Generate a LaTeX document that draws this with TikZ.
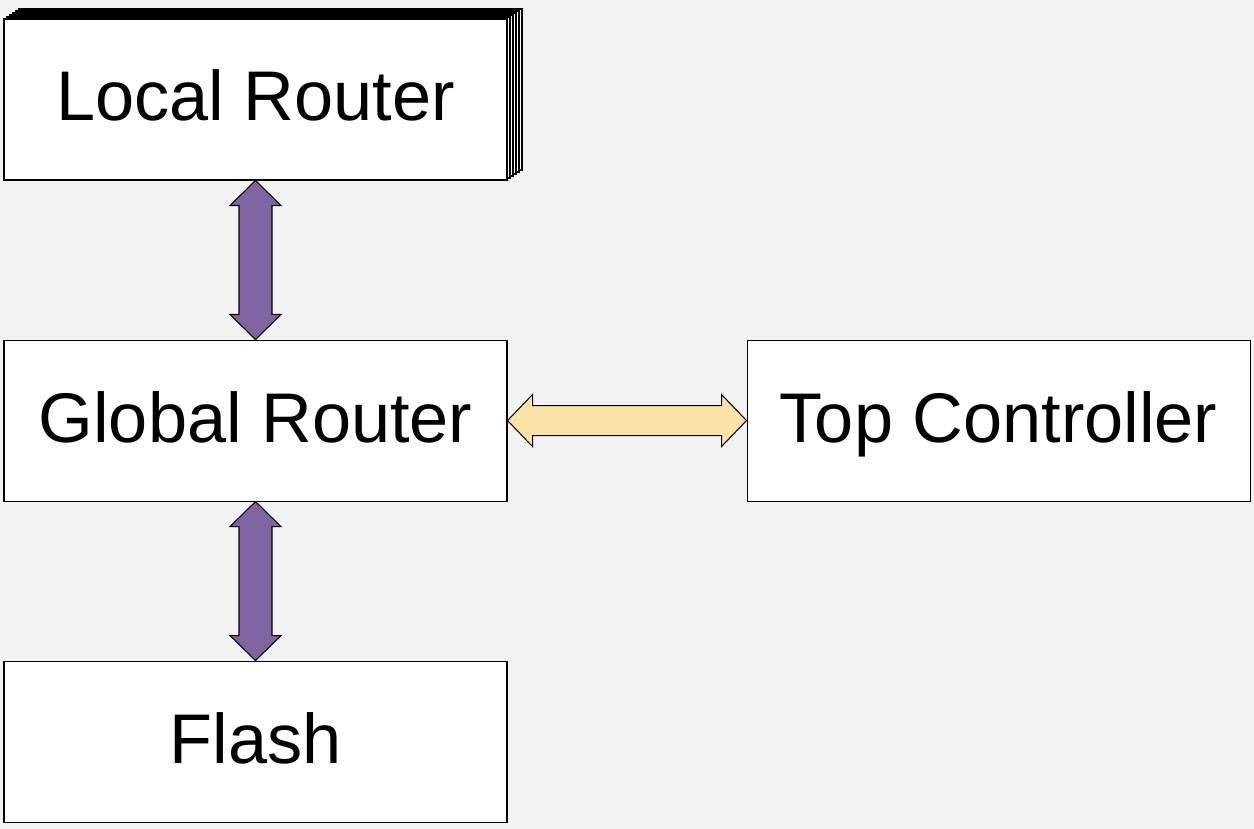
\documentclass[tikz,border=0pt]{standalone}
\usepackage{fontspec}
\setmainfont{Liberation Sans}
\usepackage{tikz}
\usetikzlibrary{calc,positioning,shadows}
\definecolor{bgGray}{RGB}{242,242,242}
\definecolor{linkPurple}{RGB}{128,100,162}
\definecolor{linkYellow}{RGB}{249,228,166}

% fat double arrows between two nodes
\newcommand{\vlink}[3]{%
  \filldraw[#1] (#2.south) -- ++(0.51,-0.5) -- ++(-0.18,0)
    -- ($(#3.north)+(0.33,0.5)$) -- ++(0.18,0) -- (#3.north)
    -- ++(-0.51,0.5) -- ++(0.18,0) -- ($(#2.south)+(-0.33,-0.5)$)
    -- ++(-0.18,0) -- cycle;}
\newcommand{\hlink}[3]{%
  \filldraw[#1] (#2.east) -- ++(0.5,0.52) -- ++(0,-0.22)
    -- ($(#3.west)+(-0.5,0.3)$) -- ++(0,0.22) -- (#3.west)
    -- ++(-0.5,-0.52) -- ++(0,0.22) -- ($(#2.east)+(0.5,-0.3)$)
    -- ++(0,-0.22) -- cycle;}

\begin{document}
\begin{tikzpicture}[
    block/.style={draw=black, line width=0.6pt, fill=white, minimum width=10.06cm,
      minimum height=3.22cm, inner sep=0pt, text height=1.16cm, text depth=0.3cm,
      font=\fontsize{40}{48}\selectfont},
    stackcopy/.style={copy shadow={draw=black, fill=white, shadow xshift=#1*0.06cm,
      shadow yshift=#1*0.04cm}},
    link/.style={draw=black, line width=0.6pt, line join=miter}
  ]
    \fill[bgGray] (0,0) rectangle (25.08,16.58);
    \useasboundingbox (0,0) rectangle (25.08,16.58);

    \node[block, stackcopy=5, stackcopy=4, stackcopy=3, stackcopy=2, stackcopy=1]
      (local) at (5.11,14.59) {Local Router};
    \node[block, below=3.18cm of local] (global) {Global Router};
    \node[block, below=3.18cm of global] (flash) {Flash};
    \node[block, right=4.78cm of global] (top) {Top Controller};

    \vlink{link, fill=linkPurple}{local}{global}
    \vlink{link, fill=linkPurple}{global}{flash}
    \hlink{link, fill=linkYellow}{global}{top}
\end{tikzpicture}
\end{document}
